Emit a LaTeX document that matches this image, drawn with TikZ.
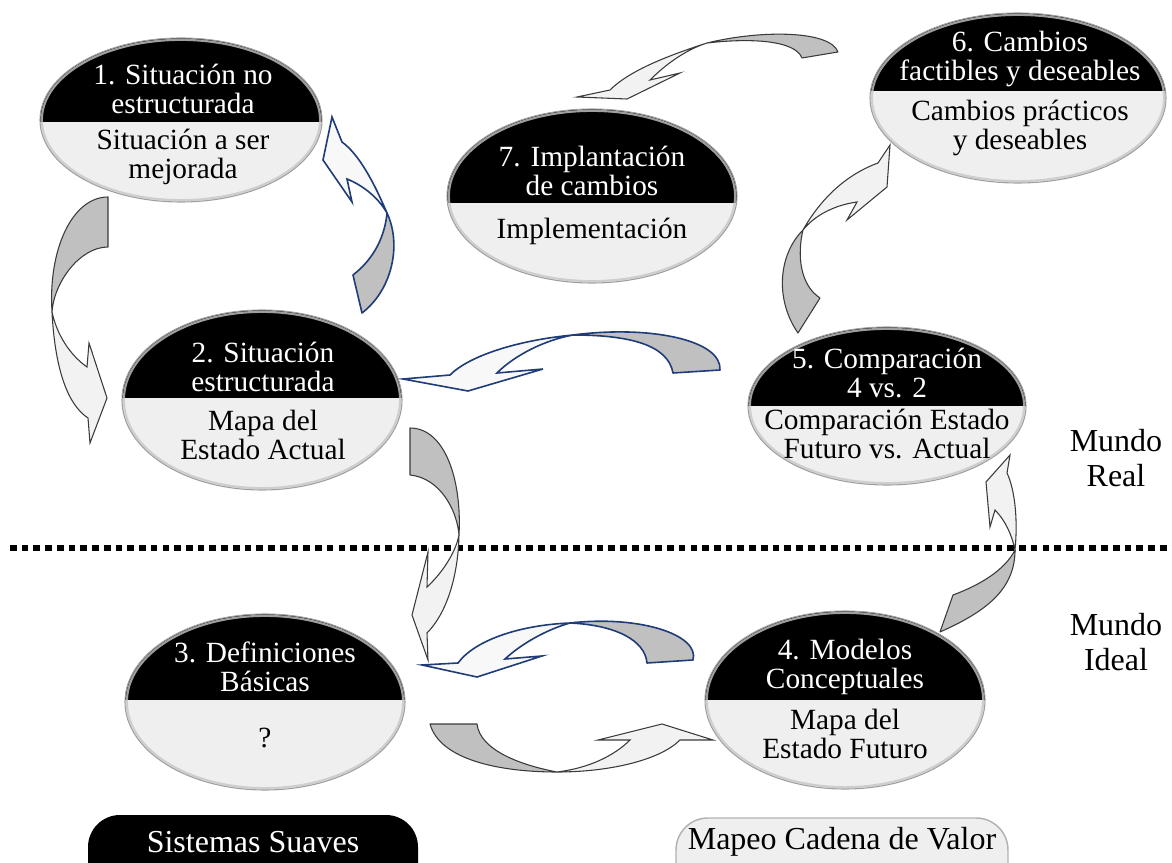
\documentclass[tikz,border=0pt]{standalone}
\usepackage{fontspec}
\setmainfont{Liberation Serif}
\usetikzlibrary{shapes.geometric}

\definecolor{tailgray}{HTML}{C0C0C0}
\definecolor{headgray}{HTML}{F2F2F2}
\definecolor{headpale}{HTML}{F8F8F8}
\definecolor{edgedark}{HTML}{3A3A3A}
\definecolor{edgeblue}{HTML}{1F3C78}
\definecolor{lowerfill}{HTML}{EFEFEF}

\tikzset{
  stage/.style={ellipse, draw=gray!75, line width=0.8pt, inner sep=0pt, outer sep=0pt},
  rim/.style={draw=gray!45, line width=1.6pt, opacity=0.8},
  toptext/.style={text=white, align=center, font=\fontsize{22}{21.5}\selectfont},
  bottext/.style={text=black, align=center, font=\fontsize{22}{21.5}\selectfont},
  sidetext/.style={text=black, align=center, font=\fontsize{24}{26}\selectfont},
  legtext/.style={align=center, font=\fontsize{24}{26}\selectfont},
  tailpart/.style={fill=tailgray, draw=edgedark, line width=0.8pt, line join=round},
  headpart/.style={fill=headgray, draw=edgedark, line width=0.8pt, line join=miter},
  bluetail/.style={fill=tailgray, draw=edgeblue, line width=1.2pt, line join=round},
  bluehead/.style={fill=headpale, draw=edgeblue, line width=1.2pt, line join=miter},
  dotline/.style={line width=3.8pt, dash pattern=on 5pt off 3.8pt},
}

% split ellipse: #1 name, #2 cx, #3 cy, #4 rx, #5 ry, #6 y of the split (pixels)
\newcommand{\stagedraw}[6]{%
  \begin{scope}
    \clip (#2,#3) ellipse [x radius=#4*0.75pt, y radius=#5*0.75pt];
    \fill[lowerfill] (#2-#4,#3-#5) rectangle (#2+#4,#3+#5);
    \fill[black] (#2-#4,#3-#5) rectangle (#2+#4,#6);
    \draw[rim] (#2,#3) ellipse [x radius=#4*0.75pt-1.4pt, y radius=#5*0.75pt-1.4pt];
  \end{scope}
  \node[stage, minimum width=#4*1.5pt, minimum height=#5*1.5pt] (#1) at (#2,#3) {};
}

\begin{document}
\begin{tikzpicture}[x=0.75pt, y=-0.75pt]
\useasboundingbox (0,0) rectangle (1172,863);

% ---------- dotted border between the two worlds ----------
\coordinate (dl) at (10,548);
\coordinate (dr) at (1172,548);
\draw[dotline] (dl) -- (dr);

% ---------- curved block arrows ----------
% 1 -> 2
\filldraw[tailpart] (108,197) .. controls (72,197) and (48,250) .. (52,312)
  .. controls (54,282) and (80,247) .. (108,247) -- cycle;
\filldraw[headpart] (52,312) .. controls (55,370) and (68,405) .. (88,418)
  -- (90,443) -- (107,398) -- (89,343) -- (87,367)
  .. controls (70,355) and (57,335) .. (52,312) -- cycle;

% 2 -> 1
\filldraw[bluetail] (362,313) .. controls (392,290) and (402,245) .. (387,213)
  .. controls (385,235) and (375,258) .. (353,275) -- cycle;
\filldraw[bluehead] (387,213) .. controls (375,185) and (360,155) .. (342,142)
  -- (332,117) -- (323,160) -- (352,202) -- (347,179)
  .. controls (362,185) and (378,197) .. (387,213) -- cycle;

% 5 -> 2
\filldraw[bluetail] (720,370) .. controls (722,340) and (650,325) .. (573,335)
  .. controls (630,335) and (668,345) .. (673,373) -- cycle;
\filldraw[bluehead] (573,335) .. controls (520,340) and (470,355) .. (450,375)
  -- (403,379) -- (468,391) -- (543,369) -- (497,373)
  .. controls (515,355) and (545,340) .. (573,335) -- cycle;

% 2 -> 3
\filldraw[tailpart] (410,428) .. controls (445,428) and (462,480) .. (459,535)
  .. controls (457,510) and (440,478) .. (410,475) -- cycle;
\filldraw[headpart] (459,535) .. controls (458,580) and (445,615) .. (427,633)
  -- (428,660) -- (412,615) -- (428,552) -- (427,587)
  .. controls (440,575) and (455,555) .. (459,535) -- cycle;

% 4 -> 3
\filldraw[bluetail] (693,660) .. controls (700,635) and (640,615) .. (570,623)
  .. controls (615,625) and (645,640) .. (647,663) -- cycle;
\filldraw[bluehead] (570,623) .. controls (520,625) and (475,640) .. (458,663)
  -- (422,665) -- (477,677) -- (542,656) -- (505,659)
  .. controls (520,645) and (545,630) .. (570,623) -- cycle;

% 3 -> 4
\filldraw[tailpart] (430,724) .. controls (440,760) and (500,772) .. (557,772)
  .. controls (520,765) and (480,750) .. (477,724) -- cycle;
\filldraw[headpart] (557,772) .. controls (610,772) and (660,760) .. (680,740)
  -- (713,740) -- (662,724) -- (598,740) -- (630,740)
  .. controls (615,755) and (590,768) .. (557,772) -- cycle;

% 4 -> 5
\filldraw[tailpart] (940,632) .. controls (985,612) and (1015,590) .. (1015,550)
  .. controls (1005,570) and (980,585) .. (953,595) -- cycle;
\filldraw[headpart] (1015,550) .. controls (1018,520) and (1015,490) .. (1007,473)
  -- (1010,455) -- (986,482) -- (990,527) -- (995,510)
  .. controls (1005,520) and (1012,535) .. (1015,550) -- cycle;

% 5 -> 6
\filldraw[tailpart] (798,333) .. controls (775,300) and (778,255) .. (803,230)
  .. controls (797,255) and (800,285) .. (820,298) -- cycle;
\filldraw[headpart] (803,230) .. controls (820,200) and (845,175) .. (878,163)
  -- (890,145) -- (887,187) -- (847,220) -- (857,202)
  .. controls (835,205) and (815,215) .. (803,230) -- cycle;

% 6 -> 7
\filldraw[tailpart] (838,52) .. controls (830,30) and (760,30) .. (707,43)
  .. controls (750,38) and (795,40) .. (802,58) -- cycle;
\filldraw[headpart] (707,43) .. controls (670,55) and (630,70) .. (610,90)
  -- (577,97) -- (627,99) -- (680,73) -- (650,80)
  .. controls (665,65) and (685,50) .. (707,43) -- cycle;

% ---------- stages ----------
\stagedraw{e1}{181}{120}{141}{82}{122}
\node[toptext] (e1a) at (183,89) {1. Situación no\\estructurada};
\node[bottext] (e1b) at (183,157) {Situación a ser\\mejorada};

\stagedraw{e7}{592}{196}{145}{87}{203}
\node[toptext] (e7a) at (592,171) {7. Implantación\\de cambios};
\node[bottext] (e7b) at (592,231) {Implementación};

\stagedraw{e6}{1018}{98}{148}{85}{91}
\node[toptext] (e6a) at (1020,59) {6. Cambios\\factibles y deseables};
\node[bottext] (e6b) at (1020,128) {Cambios prácticos\\y deseables};

\stagedraw{e2}{262}{400}{140}{90}{398}
\node[toptext] (e2a) at (263,367) {2. Situación\\estructurada};
\node[bottext] (e2b) at (263,435) {Mapa del\\Estado Actual};

\stagedraw{e5}{887}{406}{139}{79}{406}
\node[toptext] (e5a) at (887,373) {5. Comparación\\4 vs. 2};
\node[bottext] (e5b) at (887,434) {Comparación Estado\\Futuro vs. Actual};

\stagedraw{e3}{265}{702}{140}{88}{700}
\node[toptext] (e3a) at (265,667) {3. Definiciones\\Básicas};
\node[bottext] (e3b) at (265,738) {?};

\stagedraw{e4}{845}{700}{140}{89}{700}
\node[toptext] (e4a) at (845,667) {4. Modelos\\Conceptuales};
\node[bottext] (e4b) at (845,734) {Mapa del\\Estado Futuro};

% ---------- world labels ----------
\node[sidetext] (real) at (1116,458) {Mundo\\Real};
\node[sidetext] (ideal) at (1116,642) {Mundo\\Ideal};

% ---------- legend ----------
\fill[black, rounded corners=24pt] (88,815) rectangle (418,905);
\node[legtext, text=white] (soft) at (253,842) {Sistemas Suaves};
\filldraw[fill=lowerfill, draw=gray!60, line width=1.1pt, rounded corners=24pt]
  (676,818) rectangle (1008,905);
\node[legtext, text=black] (vsm) at (842,842) {Mapeo Cadena de Valor};
\end{tikzpicture}
\end{document}
